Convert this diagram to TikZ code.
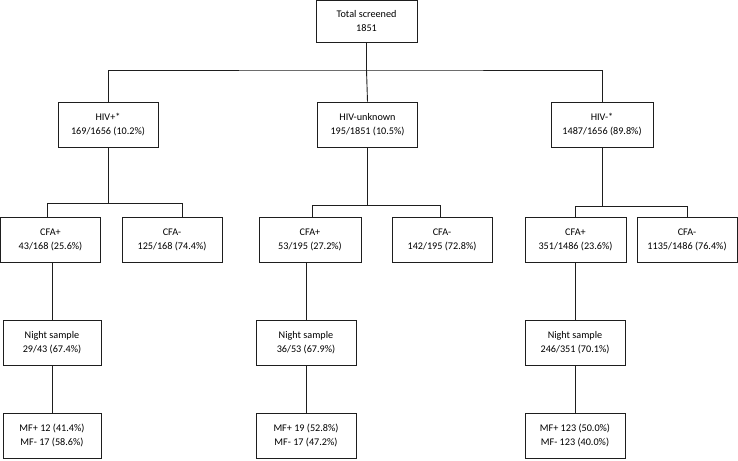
\documentclass[tikz,border=0pt]{standalone}
\usepackage{fontspec}
\setmainfont{Carlito}
\usepackage{tikz}
\usetikzlibrary{positioning,calc}
\definecolor{BoxLine}{RGB}{30,30,30}

\tikzset{
  flowbox/.style={draw=BoxLine, line width=0.9pt, minimum width=100pt, minimum height=45pt,
    inner sep=0pt, align=center, font=\fontsize{10.2}{14}\selectfont},
  link/.style={draw=BoxLine, line width=0.9pt}
}

\begin{document}
\begin{tikzpicture}[x=1pt, y=-1pt]
    \useasboundingbox (0,0) rectangle (738,460);
    % top
    \node[flowbox, minimum width=101pt, minimum height=42pt] (total) at (366.5,21.3) {Total screened\\1851};
    % HIV status
    \node[flowbox] (hivp) at (108,124.5) {HIV+*\\169/1656 (10.2\%)};
    \node[flowbox] (hivu) at (367.5,124.5) {HIV-unknown\\195/1851 (10.5\%)};
    \node[flowbox, minimum width=102pt] (hivn) at (602,124.5) {HIV-*\\1487/1656 (89.8\%)};
    % CFA
    \node[flowbox] (lcp) at (50.5,239.5) {CFA+\\43/168 (25.6\%)};
    \node[flowbox] (lcm) at (172,239.5) {CFA-\\125/168 (74.4\%)};
    \node[flowbox, minimum width=102pt] (mcp) at (310,239.5) {CFA+\\53/195 (27.2\%)};
    \node[flowbox] (mcm) at (442,239.5) {CFA-\\142/195 (72.8\%)};
    \node[flowbox, minimum width=101pt] (rcp) at (575.5,239.5) {CFA+\\351/1486 (23.6\%)};
    \node[flowbox, minimum width=100pt] (rcm) at (687,239.5) {CFA-\\1135/1486 (76.4\%)};
    % night sample
    \node[flowbox, minimum width=98pt] (lns) at (52,342.5) {Night sample\\29/43 (67.4\%)};
    \node[flowbox] (mns) at (306,342.5) {Night sample\\36/53 (67.9\%)};
    \node[flowbox] (rns) at (575,342.5) {Night sample\\246/351 (70.1\%)};
    % MF result
    \node[flowbox, minimum width=98pt] (lmf) at (52,435.5) {MF+ 12 (41.4\%)\\MF- 17 (58.6\%)};
    \node[flowbox] (mmf) at (306,435.5) {MF+ 19 (52.8\%)\\MF- 17 (47.2\%)};
    \node[flowbox] (rmf) at (575,435.5) {MF+ 123 (50.0\%)\\MF- 123 (40.0\%)};

    % connectors
    \coordinate (bus) at (366.5,70);
    \draw[link] (total.south) -- (bus);
    \draw[link] (hivp.north) |- (bus) -| (hivn.north);
    \draw[link] (bus) -- (hivu.north);
    \draw[link] (hivp.south) -- ++(0,56) -| ([xshift=-3.5pt]lcp.north);
    \draw[link] (hivp.south) -- ++(0,56) -| ([xshift=10pt]lcm.north);
    \draw[link] (hivu.south) -- ++(0,58) -| ([xshift=2pt]mcp.north);
    \draw[link] (hivu.south) -- ++(0,58) -| ([xshift=-2pt]mcm.north);
    \draw[link] (hivn.south) -- ++(0,58.5) -| (rcp.north);
    \draw[link] (hivn.south) -- ++(0,58.5) -| (rcm.north);
    \draw[link] (lns.north) -- (lns.north |- lcp.south);
    \draw[link] (mns.north) -- (mns.north |- mcp.south);
    \draw[link] (rns.north) -- (rns.north |- rcp.south);
    \draw[link] (lns.south) -- (lmf.north);
    \draw[link] (mns.south) -- (mmf.north);
    \draw[link] (rns.south) -- (rmf.north);
  \end{tikzpicture}
\end{document}
